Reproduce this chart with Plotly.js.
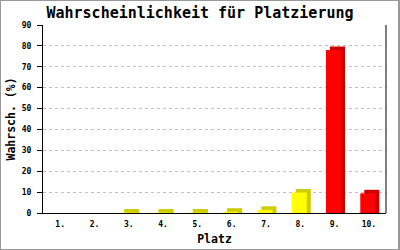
<!DOCTYPE html>
<html>
<head>
<meta charset="utf-8">
<script src="https://cdn.plot.ly/plotly-3.0.1.min.js"></script>
<style>
  html, body { margin: 0; padding: 0; background: #fff; }
  #wrap { position: relative; width: 400px; height: 250px; }
  #chart { width: 400px; height: 250px; }
  #frame { position: absolute; left: 0; top: 0; width: 400px; height: 250px; box-sizing: border-box;
           border-left: 1px solid #999; border-top: 1px solid #999; border-right: 2px solid #999; border-bottom: 1px solid #999;
           pointer-events: none; }
</style>
</head>
<body>
<div id="wrap"><div id="chart"></div><div id="frame"></div></div>
<script>
// Data
const places = ['1.', '2.', '3.', '4.', '5.', '6.', '7.', '8.', '9.', '10.'];
const probability = [0, 0, 0.2, 0.2, 0.2, 0.6, 1.5, 9.8, 78, 9.4];
const yTicks = [0, 10, 20, 30, 40, 50, 60, 70, 80, 90];

// Styles
const frontColors = ['#ffff00','#ffff00','#ffff00','#ffff00','#ffff00','#ffff00','#ffff00','#ffff00','#ff0000','#ff0000'];
const sideColors  = ['#cccc00','#cccc00','#cccc00','#cccc00','#cccc00','#cccc00','#cccc00','#cccc00','#cc0000','#cc0000'];
const depth = 1.7;           // 3D depth in value units (~4px)
const barW = 0.44;
const frontOffset = -0.25;
const sideOffset = frontOffset + 0.117;

const sideTrace = {
  type: 'bar', x: places,
  y: probability.map(v => v > 0 ? v + depth : null),
  width: barW, offset: sideOffset,
  marker: { color: sideColors, line: { width: 0 } },
  hoverinfo: 'skip', showlegend: false
};
const frontTrace = {
  type: 'bar', x: places, y: probability.map(v => v > 0 ? v : null),
  width: barW, offset: frontOffset,
  marker: { color: frontColors, line: { width: 0 } },
  showlegend: false
};

const mono = 'DejaVu Sans Mono, Liberation Mono, monospace';
const layout = {
  width: 400, height: 250,
  margin: { l: 43, r: 14, t: 25, b: 37 },
  paper_bgcolor: '#ffffff', plot_bgcolor: '#ffffff',
  barmode: 'overlay',
  title: { text: '<b>Wahrscheinlichkeit für Platzierung</b>', font: { family: mono, size: 15, color: '#000' },
           x: 0.5, xanchor: 'center', y: 0.948, yanchor: 'middle', yref: 'container' },
  xaxis: {
    type: 'category', range: [-0.5, 9.5],
    showline: true, linecolor: '#000', linewidth: 1,
    ticks: '', showgrid: false, zeroline: false,
    tickfont: { family: mono, size: 8, color: '#000', weight: 'bold' },
    ticklabelstandoff: 3,
    title: { text: '<b>Platz</b>', font: { family: mono, size: 11.5, color: '#000' }, standoff: 7 }
  },
  yaxis: {
    range: [0, 90], tickvals: yTicks, ticktext: yTicks.map(String),
    showline: true, linecolor: '#000', linewidth: 1,
    ticks: 'outside', ticklen: 5, tickcolor: '#000', tickwidth: 1,
    showgrid: true, gridcolor: '#c0c0c0', griddash: 'dot', gridwidth: 1,
    zeroline: false,
    tickfont: { family: mono, size: 8, color: '#000', weight: 'bold' },
    ticklabelstandoff: 4,
    title: { text: '<b>Wahrsch. (%)</b>', font: { family: mono, size: 11.5, color: '#000' }, standoff: 3 }
  },
  shapes: [
    { type: 'line', xref: 'paper', yref: 'paper', x0: 1, x1: 1, y0: 0, y1: 1, line: { color: '#000', width: 1 } }
  ]
};

Plotly.newPlot('chart', [sideTrace, frontTrace], layout, { displayModeBar: false, staticPlot: true });
</script>
</body>
</html>
